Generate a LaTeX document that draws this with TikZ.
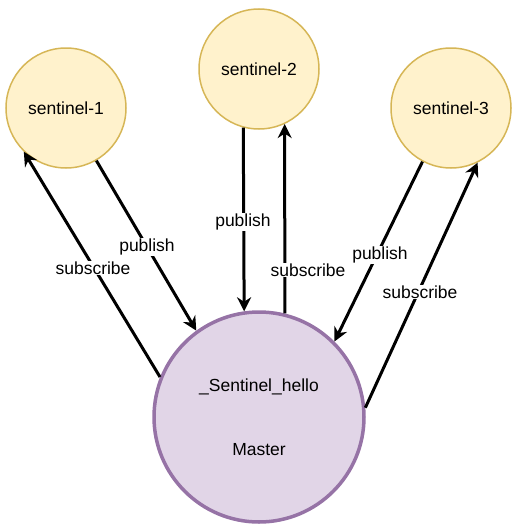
\documentclass[tikz,border=0pt]{standalone}
\usepackage{fontspec}
\setmainfont{Liberation Sans}
\usetikzlibrary{arrows.meta}
\definecolor{yfill}{HTML}{FFF2CC}
\definecolor{ydraw}{HTML}{D6B656}
\definecolor{pfill}{HTML}{E1D5E7}
\definecolor{pdraw}{HTML}{9673A6}
\begin{document}
\begin{tikzpicture}[x=1pt,y=-1pt,
  font=\fontsize{17.5}{20}\selectfont,
  sent/.style={circle,draw=ydraw,fill=yfill,line width=1.5pt,minimum size=120pt,inner sep=0pt},
  mast/.style={circle,draw=pdraw,fill=pfill,line width=3.5pt,minimum size=210pt,inner sep=0pt},
  arr/.style={line width=3pt,-{Stealth[length=14pt,width=14pt,inset=4.5pt]}},
  lbl/.style={fill=white,inner sep=1pt}]
\useasboundingbox (0,0) rectangle (518,530);
\node[sent] (s1) at (66,108) {sentinel-1};
\node[sent] (s2) at (259,69) {sentinel-2};
\node[sent] (s3) at (451,108) {sentinel-3};
\node[mast] (m) at (259,417) {};
\node (mt1) at (259,387) {\_Sentinel\_hello};
\node (mt2) at (259,450) {Master};
% arrows
\draw[arr] (s1.-60) -- (m.126);
\draw[arr] (m.158) -- (s1.-134);
\draw[arr] (s2.-105) -- (m.98);
\draw[arr] (m.76) -- (s2.-65);
\draw[arr] (s3.-118) -- (m.45);
\draw[arr] (m.5) -- (s3.-64);
% labels
\node[lbl] (l1) at (147,247) {publish};
\node[lbl] (l2) at (93,268) {subscribe};
\node[lbl] (l3) at (243,222) {publish};
\node[lbl] (l4) at (308,270) {subscribe};
\node[lbl] (l5) at (380,255) {publish};
\node[lbl] (l6) at (420,292) {subscribe};
\end{tikzpicture}
\end{document}
